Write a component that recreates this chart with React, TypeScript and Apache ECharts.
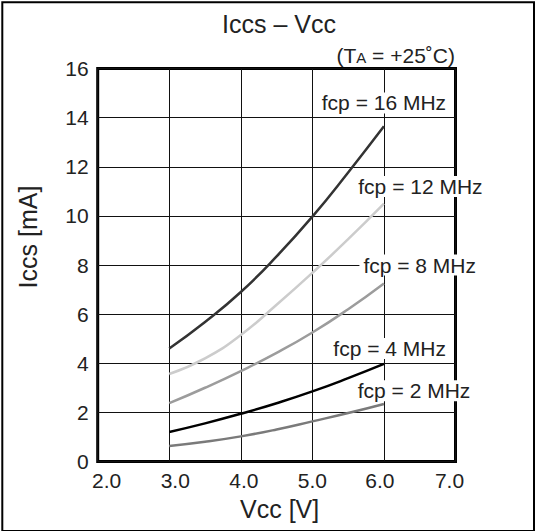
import React, { useEffect, useRef } from 'react';
import * as echarts from 'echarts';

// Supply voltage (V) sample points
const voltages = [3.0, 3.5, 4.0, 4.5, 5.0, 5.5, 6.0];
// Iccs (mA) per operating frequency
const icc16 = [4.6, 5.68, 6.9, 8.35, 9.97, 11.77, 13.65];
const icc12 = [3.56, 4.2, 5.15, 6.38, 7.68, 9.05, 10.5];
const icc8 = [2.37, 3.0, 3.68, 4.42, 5.25, 6.2, 7.25];
const icc4 = [1.2, 1.55, 1.94, 2.37, 2.85, 3.39, 3.97];
const icc2 = [0.63, 0.8, 1.02, 1.3, 1.63, 1.97, 2.34];

const seriesNames = ['fcp = 16 MHz', 'fcp = 12 MHz', 'fcp = 8 MHz', 'fcp = 4 MHz', 'fcp = 2 MHz'];
const seriesValues = [icc16, icc12, icc8, icc4, icc2];
// label anchor positions (data space)
const labelV = [6.0, 6.51, 6.5, 6.08, 6.42];
const labelI = [14.6, 11.2, 8.0, 4.6, 2.88];
const colors = ['#333333', '#cccccc', '#9c9c9c', '#000000', '#7a7a7a'];

const titleText = 'Iccs – Vcc';
const xName = 'Vcc [V]';
const yName = 'Iccs [mA]';

const FONT = '"Liberation Sans", Arial, Helvetica, sans-serif';
const TEXT = '#222222';
const FS = 21;

const xLabelPad: Record<string, number[]> = {
  p0: [0, 0, 0, 18],
  p1: [0, 0, 0, 12],
  p2: [0, 0, 0, 6],
  p3: [0, 0, 0, 0],
  p4: [0, 8, 0, 0],
  p5: [0, 12, 0, 0],
};

export default function App() {
  const ref = useRef<HTMLDivElement>(null);
  useEffect(() => {
    if (!ref.current) return;
    const chart = echarts.init(ref.current, undefined, { renderer: 'svg' });
    const rich: Record<string, any> = {};
    Object.keys(xLabelPad).forEach((k) => {
      rich[k] = { padding: xLabelPad[k], fontSize: FS, fontFamily: FONT, color: TEXT };
    });
    const option: any = {
      animation: false,
      backgroundColor: '#ffffff',
      grid: {
        left: 97.7,
        right: 80.5,
        top: 68.6,
        bottom: 69.6,
        show: true,
        borderColor: '#000',
        borderWidth: 3,
        backgroundColor: 'transparent',
      },
      xAxis: {
        type: 'value',
        min: 2,
        max: 7,
        interval: 1,
        name: xName,
        nameLocation: 'middle',
        nameGap: 29,
        nameTextStyle: { fontSize: 25, fontFamily: FONT, color: TEXT, padding: [0, 0, 0, 6] },
        axisLine: { show: false },
        axisTick: { show: false },
        splitLine: { show: true, lineStyle: { color: '#111', width: 1 } },
        axisLabel: {
          margin: 9,
          fontSize: FS,
          fontFamily: FONT,
          color: TEXT,
          formatter: (v: number) => `{p${Math.round(v - 2)}|${v.toFixed(1)}}`,
          rich,
        },
      },
      yAxis: {
        type: 'value',
        min: 0,
        max: 16,
        interval: 2,
        axisLine: { show: false },
        axisTick: { show: false },
        splitLine: { show: true, lineStyle: { color: '#111', width: 1 } },
        axisLabel: { margin: 9, fontSize: FS, fontFamily: FONT, color: TEXT },
      },
      series: seriesNames.map((name, k) => ({
        type: 'line',
        name,
        data: voltages.map((v, i) => [v, seriesValues[k][i]]),
        smooth: true,
        symbol: 'none',
        lineStyle: { color: colors[k], width: 2.5 },
        markPoint: {
          symbol: 'rect',
          symbolSize: 0,
          silent: true,
          data: [{ coord: [labelV[k], labelI[k]] }],
          label: {
            show: true,
            position: 'inside',
            formatter: name,
            fontSize: FS,
            fontFamily: FONT,
            color: TEXT,
            backgroundColor: '#ffffff',
            padding: [0, 4],
          },
        },
      })),
      graphic: [
        {
          type: 'rect',
          shape: { x: 2.3, y: 2.2, width: 531.7, height: 528.8 },
          style: { fill: 'none', stroke: '#000', lineWidth: 2 },
          silent: true,
        },
        {
          type: 'text',
          x: 279,
          y: 24,
          style: { text: titleText, font: `25px ${FONT}`, fill: TEXT, align: 'center', verticalAlign: 'middle' },
        },
        {
          type: 'text',
          x: 455,
          y: 55,
          style: {
            text: '{n|(T}{s|A}{n| = +25˚C)}',
            align: 'right',
            verticalAlign: 'middle',
            rich: {
              n: { fontSize: FS, fontFamily: FONT, fill: TEXT },
              s: { fontSize: 15, fontFamily: FONT, fill: TEXT, padding: [4, 0, 0, 0] },
            },
          },
        },
        {
          type: 'text',
          x: 28.3,
          y: 237,
          rotation: Math.PI / 2,
          style: { text: yName, font: `25px ${FONT}`, fill: TEXT, align: 'center', verticalAlign: 'middle' },
        },
      ],
    };
    chart.setOption(option);
    return () => chart.dispose();
  }, []);
  return (
    <div
      ref={ref}
      style={{ position: 'fixed', left: 0, top: 0, width: 536, height: 531, background: '#fff' }}
    />
  );
}
